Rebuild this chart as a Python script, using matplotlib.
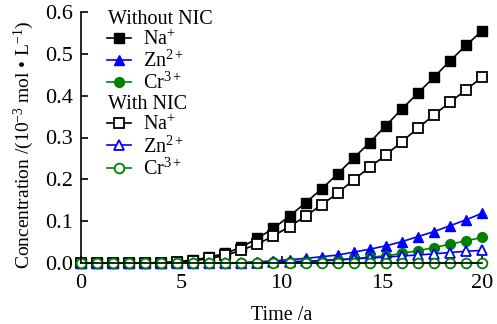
import matplotlib
matplotlib.use("Agg")
import matplotlib.pyplot as plt
from matplotlib.lines import Line2D

plt.rcParams["font.family"] = ["Liberation Serif", "DejaVu Serif"]
plt.rcParams["mathtext.fontset"] = "custom"
plt.rcParams["mathtext.rm"] = "Liberation Serif"
plt.rcParams["mathtext.it"] = "Liberation Serif:italic"

time = [0, 0.8, 1.6, 2.4, 3.2, 4.0, 4.8, 5.6, 6.4, 7.2, 8.0, 8.8, 9.6,
        10.4, 11.2, 12.0, 12.8, 13.6, 14.4, 15.2, 16.0, 16.8, 17.6, 18.4, 19.2, 20.0]

na_without = [0, 0, 0, 0, 0, 0.001, 0.003, 0.007, 0.014, 0.023, 0.038, 0.059, 0.083,
              0.112, 0.144, 0.177, 0.213, 0.251, 0.288, 0.328, 0.368, 0.406, 0.444,
              0.483, 0.520, 0.555]
zn_without = [0, 0, 0, 0, 0, 0, 0, 0, 0, 0, 0.001, 0.003, 0.005,
              0.008, 0.011, 0.015, 0.019, 0.026, 0.033, 0.041, 0.051, 0.063, 0.075,
              0.089, 0.103, 0.119]
cr_without = [0, 0, 0, 0, 0, 0, 0, 0, 0, 0, 0, 0.001, 0.002,
              0.003, 0.004, 0.005, 0.007, 0.010, 0.014, 0.017, 0.023, 0.029, 0.037,
              0.045, 0.053, 0.061]
na_with = [0, 0, 0, 0, 0, 0.001, 0.002, 0.005, 0.011, 0.018, 0.031, 0.045, 0.065,
           0.087, 0.112, 0.139, 0.167, 0.199, 0.229, 0.258, 0.290, 0.322, 0.354,
           0.384, 0.414, 0.444]
zn_with = [0, 0, 0, 0, 0, 0, 0, 0, 0, 0, 0, 0.001, 0.002,
           0.003, 0.004, 0.006, 0.008, 0.010, 0.012, 0.014, 0.017, 0.019, 0.022,
           0.025, 0.028, 0.030]
cr_with = [0] * 26

ions = ["Na$^{+}$", "Zn$^{2+}$", "Cr$^{3+}$"]
colors = ["black", "#0000ff", "#008000"]
markers = ["s", "^", "o"]

fig = plt.figure(figsize=(4.97, 3.24), dpi=100)
ax = fig.add_axes([81 / 497, 1 - 263 / 324, 401 / 497, 251 / 324])

handles_without = []
for y, c, m in zip([na_without, zn_without, cr_without], colors, markers):
    h, = ax.plot(time, y, "-", color=c, marker=m, ms=7, mfc=c, mec=c,
                 lw=1.2, clip_on=False)
    handles_without.append(h)

handles_with = []
for y, c, m in zip([na_with, zn_with, cr_with], colors, markers):
    h, = ax.plot(time, y, "-", color=c, marker=m, ms=7, mfc="white", mec=c,
                 mew=1.3, lw=1.2, clip_on=False)
    handles_with.append(h)

ax.set_xlim(0, 20)
ax.set_ylim(0, 0.6)
ax.set_xticks([0, 5, 10, 15, 20])
ax.set_yticks([0, 0.1, 0.2, 0.3, 0.4, 0.5, 0.6])
ax.set_yticklabels(["0.0", "0.1", "0.2", "0.3", "0.4", "0.5", "0.6"])
ax.tick_params(direction="in", labelsize=16, length=5, width=1.2, pad=6)
ax.tick_params(axis="x", pad=8)
ax.spines["top"].set_visible(False)
ax.spines["right"].set_visible(False)
ax.spines["left"].set_linewidth(1.2)
ax.spines["bottom"].set_linewidth(1.2)

ax.set_xlabel("Time /a", fontsize=14.5, labelpad=9)
ax.set_ylabel("Concentration /(10$^{\\mathregular{-3}}$ mol \u2022 L$^{\\mathregular{-1}}$)",
              fontsize=14)
ax.yaxis.set_label_coords(-0.112, 0.47)

blank = Line2D([], [], linestyle="none")
handles = [blank] + handles_without + [blank] + handles_with
labels = ["Without NIC"] + ions + ["With NIC"] + ions
leg = ax.legend(handles, labels, loc="upper left", bbox_to_anchor=(0.065, 1.01),
                frameon=False, fontsize=14.5, handlelength=1.2, handletextpad=0.6,
                labelspacing=0.05, borderpad=0, borderaxespad=0)

headers = ["Without NIC", "With NIC"]
for vpack in leg._legend_handle_box.get_children():
    for hpack in vpack.get_children():
        box, text = hpack.get_children()
        if text.get_children()[0].get_text() in headers:
            box.set_width(-8)

fig.savefig("out.png", dpi=100)
